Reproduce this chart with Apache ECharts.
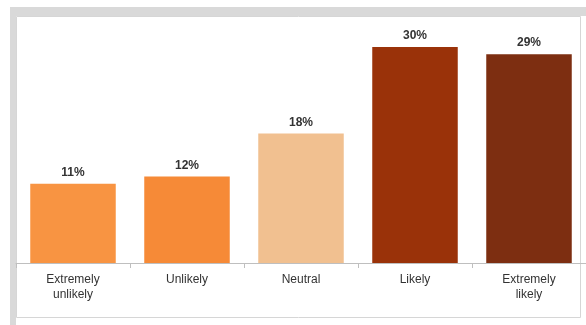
<!DOCTYPE html>
<html><head><meta charset="utf-8">
<script src="https://cdn.jsdelivr.net/npm/echarts@6/dist/echarts.min.js"></script>
<style>html,body{margin:0;padding:0;background:#fff}#c{width:586px;height:325px}</style>
</head><body><div id="c"></div>
<script>
const categories = ['Extremely\nunlikely', 'Unlikely', 'Neutral', 'Likely', 'Extremely\nlikely'];
const values = [11, 12, 18, 30, 29];
const barColors = ['#F89442', '#F68A37', '#F1C090', '#9A3209', '#7D2E11'];

const chart = echarts.init(document.getElementById('c'), null, {renderer: 'canvas'});
chart.setOption({
  animation: false,
  backgroundColor: '#fff',
  graphic: [
    {type: 'rect', z: -10, silent: true, shape: {x: 10, y: 7, width: 576, height: 9}, style: {fill: '#D9D9D9'}},
    {type: 'rect', z: -10, silent: true, shape: {x: 10, y: 7, width: 6, height: 318}, style: {fill: '#D9D9D9'}},
    {type: 'rect', z: -9, silent: true, shape: {x: 16.5, y: 16.5, width: 564, height: 301}, style: {fill: '#FFFFFF', stroke: '#D6D6D6', lineWidth: 1}}
  ],
  grid: {left: 16, right: 0, top: 16, bottom: 62, containLabel: false},
  xAxis: {
    type: 'category',
    data: categories,
    axisLine: {lineStyle: {color: '#BFBFBF', width: 1}},
    axisTick: {show: true, alignWithLabel: false, length: 5, lineStyle: {color: '#BFBFBF'}},
    axisLabel: {color: '#333', fontFamily: 'Liberation Sans, Arial, sans-serif', fontSize: 12, lineHeight: 15, margin: 9, interval: 0}
  },
  yAxis: {type: 'value', min: 0, max: 34.3, show: false, splitLine: {show: false}},
  series: [{
    type: 'bar',
    barWidth: '75%',
    data: values.map((v, i) => ({value: v, itemStyle: {color: barColors[i]}})),
    label: {
      show: true, position: 'top', distance: 5,
      formatter: p => p.value + '%',
      color: '#333', fontFamily: 'Liberation Sans, Arial, sans-serif', fontSize: 12, fontWeight: 'bold'
    }
  }]
});
</script></body></html>
